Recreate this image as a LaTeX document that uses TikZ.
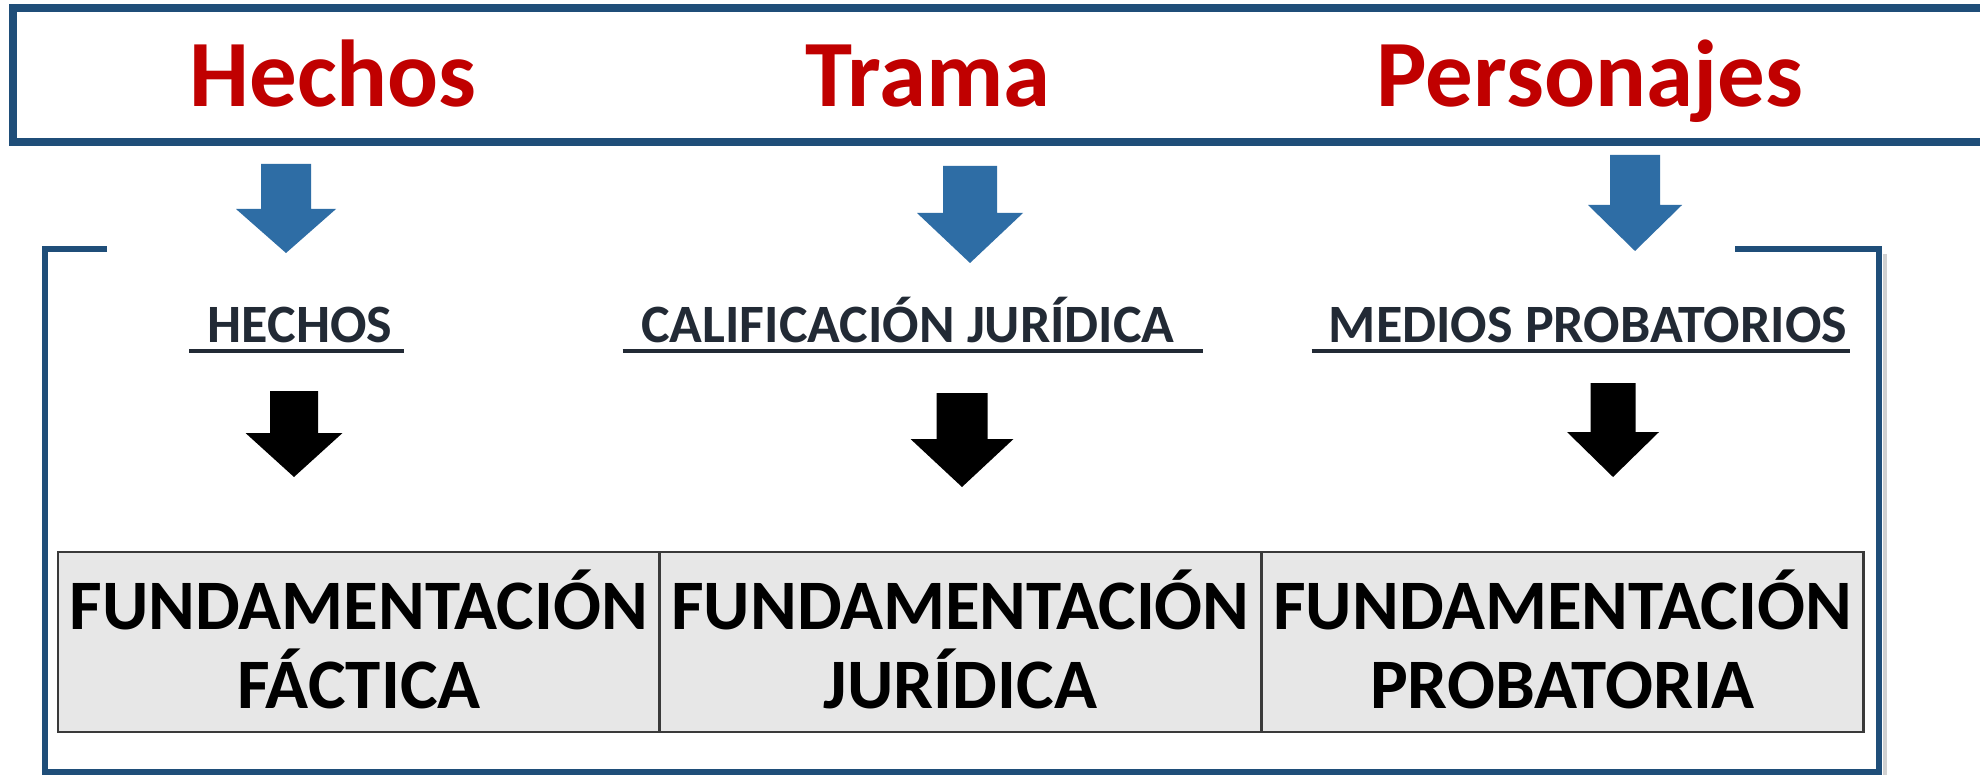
\documentclass[tikz,border=0pt]{standalone}
\usepackage{fontspec}
\setmainfont{Carlito}
\definecolor{boxblue}{HTML}{1F4E79}
\definecolor{arrblue}{HTML}{2E6DA5}
\definecolor{titred}{HTML}{C00000}
\definecolor{labdark}{HTML}{222A35}
\definecolor{cellgrey}{HTML}{E7E7E7}
\definecolor{cellline}{HTML}{3A3A3A}
% #1 colour, #2 centre x, #3 top, #4 head start, #5 tip, #6 shaft half width, #7 head half width
\newcommand{\blockdown}[7]{\fill[#1] (#2-#6,#3) -- (#2+#6,#3) -- (#2+#6,#4) -- (#2+#7,#4) -- (#2,#5) -- (#2-#7,#4) -- (#2-#6,#4) -- cycle;}
\tikzset{
  titletext/.style={anchor=base, inner sep=0pt, text=titred, font=\bfseries\fontsize{95}{95}\selectfont},
  labtext/.style={anchor=base, inner sep=0pt, text=labdark, font=\bfseries\fontsize{54}{54}\selectfont},
  uline/.style={draw=labdark, line width=4pt},
  celltext/.style={anchor=base, inner sep=0pt, text=black, font=\bfseries\fontsize{71}{71}\selectfont},
  cellbox/.style={draw=cellline, fill=cellgrey, line width=2.5pt, minimum width=602pt, minimum height=180pt, inner sep=0pt},
  framebox/.style={draw=boxblue, line join=miter}
}
\begin{document}
\begin{tikzpicture}[x=1pt,y=-1pt]
\useasboundingbox (0,0) rectangle (1980,775);
\fill[white] (0,0) rectangle (1980,775);

% top frame
\draw[framebox, line width=8pt] (1980,8) -- (13,8) -- (13,142) -- (1980,142);
\node[titletext] (t1) at (333,107) {Hechos};
\node[titletext] (t2) at (928,107) {Trama};
\node[titletext] (t3) at (1590,107) {Personajes};

% blue arrows
\blockdown{arrblue}{286}{164}{209}{253}{25}{50}
\blockdown{arrblue}{970}{166}{213}{263}{27}{53}
\blockdown{arrblue}{1635}{155}{205}{251}{25}{47}

% lower frame
\draw[black!18, line width=4pt] (1885,254) -- (1885,775);
\draw[framebox, line width=6pt] (107,249) -- (45,249) -- (45,772) -- (1879,772) -- (1879,249) -- (1735,249);

% labels
\node[labtext] (l1) at (300,343) {HECHOS};
\node[labtext] (l2) at (908,343) {CALIFICACIÓN JURÍDICA};
\node[labtext] (l3) at (1588,343) {MEDIOS PROBATORIOS};
\draw[uline] ([xshift=-18.5pt,yshift=-8pt]l1.base west) -- ([xshift=11.5pt,yshift=-8pt]l1.base east);
\draw[uline] ([xshift=-18.5pt,yshift=-8pt]l2.base west) -- ([xshift=28.5pt,yshift=-8pt]l2.base east);
\draw[uline] ([xshift=-17pt,yshift=-8pt]l3.base west) -- ([xshift=3pt,yshift=-8pt]l3.base east);

% black arrows
\blockdown{black}{294}{391}{433}{477}{24}{48.5}
\blockdown{black}{962}{393}{439}{487}{25.5}{51.5}
\blockdown{black}{1613}{383}{432}{477}{22.5}{46}

% table
\node[cellbox] (c1) at (359,642) {};
\node[cellbox] (c2) at (960.5,642) {};
\node[cellbox] (c3) at (1562.5,642) {};
\node[celltext] (c1a) at (359,629) {FUNDAMENTACIÓN};
\node[celltext] (c1b) at (359,708) {FÁCTICA};
\node[celltext] (c2a) at (960.5,629) {FUNDAMENTACIÓN};
\node[celltext] (c2b) at (960.5,708) {JURÍDICA};
\node[celltext] (c3a) at (1562.5,629) {FUNDAMENTACIÓN};
\node[celltext] (c3b) at (1562.5,708) {PROBATORIA};
\end{tikzpicture}
\end{document}
